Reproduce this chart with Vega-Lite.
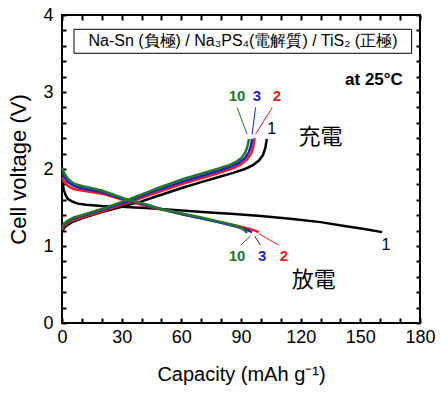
{
  "$schema": "https://vega.github.io/schema/vega-lite/v6.json",
  "width": 358,
  "height": 308,
  "autosize": {"type": "none"},
  "padding": {"left": 62, "top": 15, "right": 21, "bottom": 70},
  "config": {"view": {"stroke": "black", "strokeWidth": 2}, "font": "Liberation Sans"},
  "datasets": {
    "curves": [
      {"c":"1","m":"c","x":0,"v":1.19},{"c":"1","m":"c","x":1,"v":1.23},{"c":"1","m":"c","x":2,"v":1.26},{"c":"1","m":"c","x":5,"v":1.31},{"c":"1","m":"c","x":10,"v":1.36},{"c":"1","m":"c","x":20,"v":1.44},{"c":"1","m":"c","x":30,"v":1.51},{"c":"1","m":"c","x":40,"v":1.58},{"c":"1","m":"c","x":48,"v":1.65},{"c":"1","m":"c","x":61,"v":1.76},{"c":"1","m":"c","x":70,"v":1.83},{"c":"1","m":"c","x":78,"v":1.89},{"c":"1","m":"c","x":86,"v":1.95},{"c":"1","m":"c","x":92,"v":2.0},{"c":"1","m":"c","x":96,"v":2.05},{"c":"1","m":"c","x":99,"v":2.11},{"c":"1","m":"c","x":101,"v":2.18},{"c":"1","m":"c","x":102.2,"v":2.27},{"c":"1","m":"c","x":103,"v":2.39},
      {"c":"1","m":"d","x":0,"v":1.85},{"c":"1","m":"d","x":0.5,"v":1.78},{"c":"1","m":"d","x":1,"v":1.72},{"c":"1","m":"d","x":2,"v":1.65},{"c":"1","m":"d","x":3,"v":1.61},{"c":"1","m":"d","x":5,"v":1.58},{"c":"1","m":"d","x":8,"v":1.55},{"c":"1","m":"d","x":12,"v":1.535},{"c":"1","m":"d","x":20,"v":1.52},{"c":"1","m":"d","x":30,"v":1.51},{"c":"1","m":"d","x":44,"v":1.49},{"c":"1","m":"d","x":60,"v":1.46},{"c":"1","m":"d","x":78,"v":1.43},{"c":"1","m":"d","x":85,"v":1.42},{"c":"1","m":"d","x":100,"v":1.39},{"c":"1","m":"d","x":116,"v":1.35},{"c":"1","m":"d","x":130,"v":1.31},{"c":"1","m":"d","x":142,"v":1.26},{"c":"1","m":"d","x":152,"v":1.22},{"c":"1","m":"d","x":161,"v":1.18},
      {"c":"2","m":"c","x":0,"v":1.21},{"c":"2","m":"c","x":1,"v":1.26},{"c":"2","m":"c","x":3,"v":1.3},{"c":"2","m":"c","x":6,"v":1.34},{"c":"2","m":"c","x":10,"v":1.37},{"c":"2","m":"c","x":20,"v":1.45},{"c":"2","m":"c","x":32,"v":1.55},{"c":"2","m":"c","x":44,"v":1.66},{"c":"2","m":"c","x":61,"v":1.81},{"c":"2","m":"c","x":70,"v":1.88},{"c":"2","m":"c","x":78,"v":1.94},{"c":"2","m":"c","x":86,"v":2.01},{"c":"2","m":"c","x":90,"v":2.06},{"c":"2","m":"c","x":93,"v":2.12},{"c":"2","m":"c","x":95.3,"v":2.21},{"c":"2","m":"c","x":96.3,"v":2.3},{"c":"2","m":"c","x":96.8,"v":2.4},
      {"c":"2","m":"d","x":0,"v":1.89},{"c":"2","m":"d","x":1,"v":1.84},{"c":"2","m":"d","x":3,"v":1.78},{"c":"2","m":"d","x":6,"v":1.74},{"c":"2","m":"d","x":10,"v":1.72},{"c":"2","m":"d","x":20,"v":1.68},{"c":"2","m":"d","x":32,"v":1.59},{"c":"2","m":"d","x":44,"v":1.51},{"c":"2","m":"d","x":61,"v":1.41},{"c":"2","m":"d","x":70,"v":1.36},{"c":"2","m":"d","x":80,"v":1.31},{"c":"2","m":"d","x":90,"v":1.25},{"c":"2","m":"d","x":96,"v":1.21},{"c":"2","m":"d","x":99,"v":1.18},
      {"c":"3","m":"c","x":0,"v":1.23},{"c":"3","m":"c","x":1,"v":1.28},{"c":"3","m":"c","x":3,"v":1.32},{"c":"3","m":"c","x":6,"v":1.36},{"c":"3","m":"c","x":10,"v":1.39},{"c":"3","m":"c","x":20,"v":1.47},{"c":"3","m":"c","x":32,"v":1.57},{"c":"3","m":"c","x":44,"v":1.69},{"c":"3","m":"c","x":61,"v":1.84},{"c":"3","m":"c","x":70,"v":1.91},{"c":"3","m":"c","x":78,"v":1.97},{"c":"3","m":"c","x":85,"v":2.03},{"c":"3","m":"c","x":89,"v":2.08},{"c":"3","m":"c","x":92,"v":2.14},{"c":"3","m":"c","x":94,"v":2.22},{"c":"3","m":"c","x":95,"v":2.3},{"c":"3","m":"c","x":95.6,"v":2.39},
      {"c":"3","m":"d","x":0,"v":1.95},{"c":"3","m":"d","x":1,"v":1.9},{"c":"3","m":"d","x":3,"v":1.83},{"c":"3","m":"d","x":6,"v":1.78},{"c":"3","m":"d","x":10,"v":1.75},{"c":"3","m":"d","x":20,"v":1.7},{"c":"3","m":"d","x":32,"v":1.6},{"c":"3","m":"d","x":44,"v":1.52},{"c":"3","m":"d","x":61,"v":1.41},{"c":"3","m":"d","x":70,"v":1.36},{"c":"3","m":"d","x":80,"v":1.3},{"c":"3","m":"d","x":88,"v":1.25},{"c":"3","m":"d","x":93,"v":1.21},{"c":"3","m":"d","x":95.6,"v":1.18},
      {"c":"10","m":"c","x":0,"v":1.24},{"c":"10","m":"c","x":1,"v":1.29},{"c":"10","m":"c","x":3,"v":1.33},{"c":"10","m":"c","x":6,"v":1.37},{"c":"10","m":"c","x":10,"v":1.4},{"c":"10","m":"c","x":20,"v":1.48},{"c":"10","m":"c","x":32,"v":1.59},{"c":"10","m":"c","x":44,"v":1.71},{"c":"10","m":"c","x":48,"v":1.75},{"c":"10","m":"c","x":61,"v":1.87},{"c":"10","m":"c","x":70,"v":1.94},{"c":"10","m":"c","x":78,"v":2.0},{"c":"10","m":"c","x":84,"v":2.05},{"c":"10","m":"c","x":88,"v":2.1},{"c":"10","m":"c","x":90.5,"v":2.15},{"c":"10","m":"c","x":92.3,"v":2.22},{"c":"10","m":"c","x":93.3,"v":2.3},{"c":"10","m":"c","x":94,"v":2.39},
      {"c":"10","m":"d","x":0,"v":2.02},{"c":"10","m":"d","x":1,"v":1.95},{"c":"10","m":"d","x":3,"v":1.87},{"c":"10","m":"d","x":6,"v":1.81},{"c":"10","m":"d","x":10,"v":1.78},{"c":"10","m":"d","x":20,"v":1.72},{"c":"10","m":"d","x":32,"v":1.61},{"c":"10","m":"d","x":44,"v":1.53},{"c":"10","m":"d","x":48,"v":1.49},{"c":"10","m":"d","x":61,"v":1.42},{"c":"10","m":"d","x":70,"v":1.37},{"c":"10","m":"d","x":80,"v":1.31},{"c":"10","m":"d","x":88,"v":1.26},{"c":"10","m":"d","x":91,"v":1.22},{"c":"10","m":"d","x":93.1,"v":1.17}
    ],
    "leaders": [
      {"c":"10","x":88,"y":2.8,"x2":93.1,"y2":2.45},
      {"c":"3","x":97.3,"y":2.8,"x2":95.6,"y2":2.45},
      {"c":"2","x":105.7,"y":2.8,"x2":97.3,"y2":2.45},
      {"c":"10","x":94.8,"y":1.13,"x2":89.8,"y2":1.01},
      {"c":"3","x":96.8,"y":1.13,"x2":99.8,"y2":1.01},
      {"c":"2","x":99,"y":1.16,"x2":109,"y2":1.01}
    ],
    "labels": [
      {"c":"10","x":88,"y":2.95,"t":"10"},
      {"c":"3","x":98,"y":2.95,"t":"3"},
      {"c":"2","x":108,"y":2.95,"t":"2"},
      {"c":"1","x":105.4,"y":2.52,"t":"1"},
      {"c":"10","x":88,"y":0.87,"t":"10"},
      {"c":"3","x":100.7,"y":0.87,"t":"3"},
      {"c":"2","x":111.6,"y":0.87,"t":"2"},
      {"c":"1","x":162.9,"y":1.01,"t":"1"}
    ]
  },
  "layer": [
    {
      "data": {"name": "curves"},
      "mark": {"type": "line", "strokeWidth": 2.5},
      "encoding": {
        "x": {"field": "x", "type": "quantitative", "scale": {"domain": [0, 180], "nice": false},
          "axis": {"orient": "bottom", "values": [0,10,20,30,40,50,60,70,80,90,100,110,120,130,140,150,160,170,180],
            "labelExpr": "datum.value % 30 === 0 ? '' + datum.value : ''",
            "ticks": false, "domain": false, "grid": true, "gridColor": "black", "gridOpacity": 1, "gridWidth": 2, "gridDash": [5, 1000],
            "labelFontSize": 18, "labelColor": "black", "labelPadding": 5, "labelOverlap": false, "labelFlush": false,
            "title": "Capacity (mAh g⁻¹)", "titleFontSize": 20, "titleFontWeight": "normal", "titleColor": "black", "titlePadding": 18}},
        "y": {"field": "v", "type": "quantitative", "scale": {"domain": [0, 4], "nice": false},
          "axis": {"orient": "left", "values": [0,0.2,0.4,0.6,0.8,1,1.2,1.4,1.6,1.8,2,2.2,2.4,2.6,2.8,3,3.2,3.4,3.6,3.8,4],
            "labelExpr": "datum.value % 1 === 0 ? '' + datum.value : ''",
            "ticks": false, "domain": false, "grid": true, "gridColor": "black", "gridOpacity": 1, "gridWidth": 2, "gridDash": [4, 1000],
            "labelFontSize": 18, "labelColor": "black", "labelPadding": 9, "labelOverlap": false, "labelFlush": false,
            "title": "Cell voltage (V)", "titleFontSize": 22, "titleFontWeight": "normal", "titleColor": "black", "titlePadding": 12}},
        "color": {"field": "c", "type": "nominal", "scale": {"domain": ["1","2","3","10"], "range": ["#000000","#ee1c24","#1f1fc0","#1e7a2a"]}, "legend": null},
        "detail": {"field": "m"}
      }
    },
    {
      "data": {"name": "leaders"},
      "mark": {"type": "rule", "strokeWidth": 1},
      "encoding": {
        "x": {"field": "x", "type": "quantitative", "axis": null},
        "y": {"field": "y", "type": "quantitative", "axis": null},
        "x2": {"field": "x2"},
        "y2": {"field": "y2"},
        "color": {"field": "c", "type": "nominal", "legend": null}
      }
    },
    {
      "data": {"name": "labels"},
      "transform": [{"filter": "datum.c !== '1'"}],
      "mark": {"type": "text", "fontSize": 15, "fontWeight": "bold", "align": "center", "baseline": "middle"},
      "encoding": {
        "x": {"field": "x", "type": "quantitative", "axis": null},
        "y": {"field": "y", "type": "quantitative", "axis": null},
        "text": {"field": "t"},
        "color": {"field": "c", "type": "nominal", "legend": null}
      }
    },
    {
      "data": {"name": "labels"},
      "transform": [{"filter": "datum.c === '1'"}],
      "mark": {"type": "text", "fontSize": 16, "align": "center", "baseline": "middle", "color": "black"},
      "encoding": {
        "x": {"field": "x", "type": "quantitative", "axis": null},
        "y": {"field": "y", "type": "quantitative", "axis": null},
        "text": {"field": "t"}
      }
    },
    {
      "data": {"values": [{"t": "Na-Sn (負極) / Na₃PS₄(電解質) / TiS₂ (正極)", "x": 91.0, "y": 3.662}]},
      "mark": {"type": "text", "fontSize": 16, "align": "center", "baseline": "middle", "color": "black"},
      "encoding": {
        "x": {"field": "x", "type": "quantitative", "axis": null},
        "y": {"field": "y", "type": "quantitative", "axis": null},
        "text": {"field": "t"}
      }
    },
    {
      "data": {"values": [{"t": "at 25°C", "x": 171.4, "y": 3.16}]},
      "mark": {"type": "text", "fontSize": 17, "fontWeight": "bold", "align": "right", "baseline": "middle", "color": "black"},
      "encoding": {
        "x": {"field": "x", "type": "quantitative", "axis": null},
        "y": {"field": "y", "type": "quantitative", "axis": null},
        "text": {"field": "t"}
      }
    },
    {
      "data": {"values": [{"t": "充電", "x": 130, "y": 2.41}, {"t": "放電", "x": 126.6, "y": 0.56}]},
      "mark": {"type": "text", "fontSize": 22, "font": "Noto Sans CJK JP", "align": "center", "baseline": "middle", "color": "black"},
      "encoding": {
        "x": {"field": "x", "type": "quantitative", "axis": null},
        "y": {"field": "y", "type": "quantitative", "axis": null},
        "text": {"field": "t"}
      }
    },
    {
      "data": {"values": [{"x": 6.03, "x2": 175.8, "y": 3.503, "y2": 3.814}]},
      "mark": {"type": "rect", "fill": null, "stroke": "black", "strokeWidth": 1},
      "encoding": {
        "x": {"field": "x", "type": "quantitative",
          "axis": {"orient": "top", "values": [0,10,20,30,40,50,60,70,80,90,100,110,120,130,140,150,160,170,180],
            "labels": false, "ticks": false, "domain": false, "title": null,
            "grid": true, "gridColor": "black", "gridOpacity": 1, "gridWidth": 2, "gridDash": [5, 1000]}},
        "x2": {"field": "x2"},
        "y": {"field": "y", "type": "quantitative",
          "axis": {"orient": "right", "values": [0,0.2,0.4,0.6,0.8,1,1.2,1.4,1.6,1.8,2,2.2,2.4,2.6,2.8,3,3.2,3.4,3.6,3.8,4],
            "labels": false, "ticks": false, "domain": false, "title": null,
            "grid": true, "gridColor": "black", "gridOpacity": 1, "gridWidth": 2, "gridDash": [4, 1000]}},
        "y2": {"field": "y2"}
      }
    }
  ],
  "resolve": {"axis": {"x": "independent", "y": "independent"}}
}
